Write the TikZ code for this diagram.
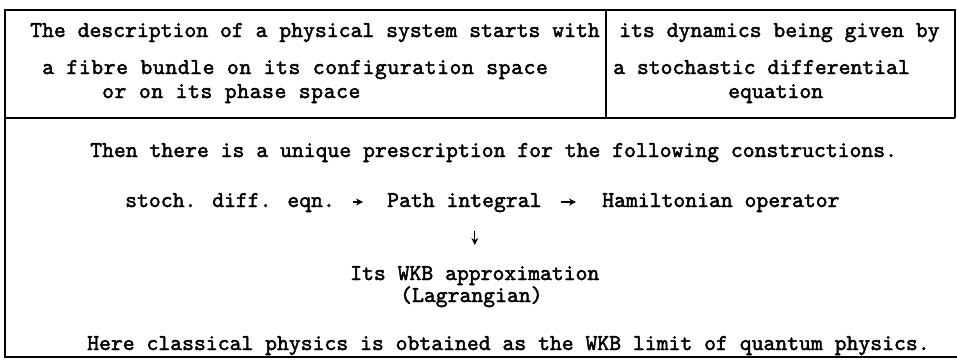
\documentclass[tikz,border=0pt]{standalone}
\usepackage{fontspec}
\usetikzlibrary{arrows.meta, calc}
\newfontfamily\typewriter{lmmono10-regular.otf}[FakeBold=2]
\newfontfamily\widetypewriter{lmmono10-regular.otf}[FakeBold=2, LetterSpace=2.5]

\begin{document}
\begin{tikzpicture}[x=1pt, y=-1pt, font=\typewriter\fontsize{22.6}{27}\selectfont,
    txt/.style={anchor=base west, inner sep=0pt},
    widetxt/.style={txt, font=\widetypewriter\fontsize{22.6}{27}\selectfont},
    frame/.style={line width=1.5pt},
    flow/.style={-{Stealth[length=7pt, width=7pt]}, line width=1.3pt}]
  \useasboundingbox (0,0) rectangle (957,362);
  % frame and dividers
  \draw[frame] (955,118) -- (955,10) -- (5,10) -- (5,357) -- (957,357);
  \draw[frame] (5,118) -- (955,118);
  \draw[frame] (606,10) -- (606,118);
  % upper part
  \node[txt] (start) at (30,37) {The description of a physical system starts with};
  \node[widetxt] (bundle) at (42,74) {a fibre bundle on its configuration space};
  \node[widetxt] (phase) at (102,98) {or on its phase space};
  \node[txt] (dyn) at (619,37) {its dynamics being given by};
  \node[txt] (sde) at (613,74) {a stochastic differential};
  \node[txt] (eqn) at (728,98) {equation};
  % lower part
  \node[txt] (then) at (90,157) {Then there is a unique prescription for the following constructions.};
  \node[txt] (stoch) at (125,207) {stoch. diff. eqn.};
  \node[txt] (path) at (387,207) {Path integral};
  \node[txt] (ham) at (602,207) {Hamiltonian operator};
  \node[txt] (wkb) at (350,280) {Its WKB approximation};
  \node[txt] (lag) at (400,302) {(Lagrangian)};
  \node[txt] (here) at (87,350) {Here classical physics is obtained as the WKB limit of quantum physics.};
  \draw[flow] ($(stoch.base east)+(18,-5)$) -- ($(path.base west)+(-24,-5)$);
  \draw[flow] ($(path.base east)+(19,-5)$) -- ($(ham.base west)+(-26,-5)$);
  \draw[flow] ($(path.base -| wkb.base)+(0,24)$) -- ($(wkb.base)+(0,-35)$);
\end{tikzpicture}
\end{document}
